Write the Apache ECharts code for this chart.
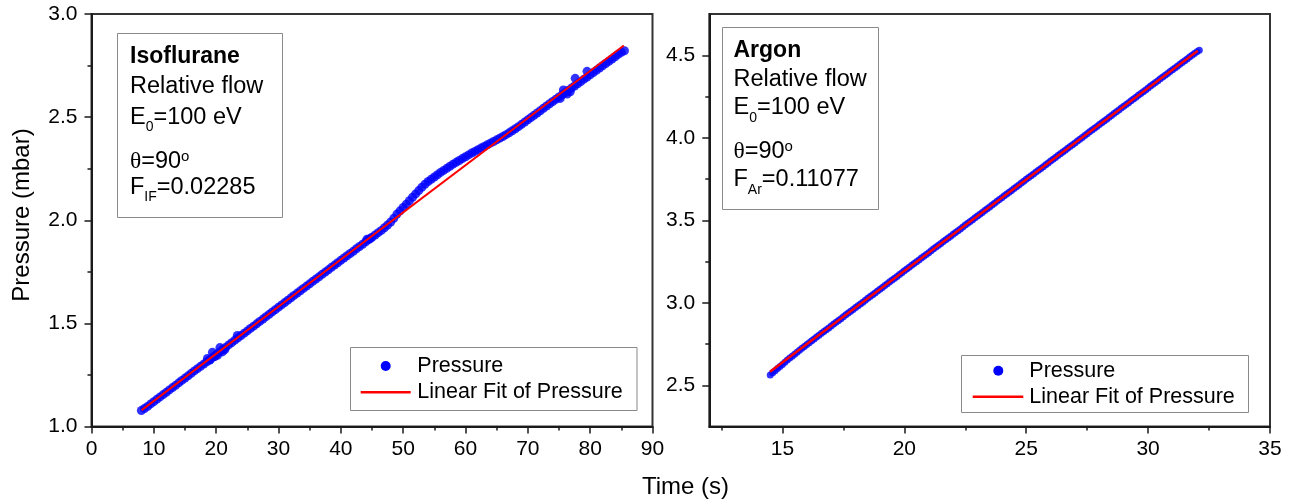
<!DOCTYPE html>
<html><head><meta charset="utf-8">
<script src="https://cdn.jsdelivr.net/npm/echarts@6.0.0/dist/echarts.min.js"></script>
<style>html,body{margin:0;padding:0;background:#fff}#c{width:1303px;height:504px}</style>
</head><body><div id="c"></div>
<script>
// ---------- Isoflurane panel data ----------
const isoTime = [8,8.5,9,9.5,10,10.5,11,11.5,12,12.5,13,13.5,14,14.5,15,15.5,16,16.5,17,17.5,18,18.5,19,19.5,20,20.5,21,21.5,22,22.5,23,23.5,24,24.5,25,25.5,26,26.5,27,27.5,28,28.5,29,29.5,30,30.5,31,31.5,32,32.5,33,33.5,34,34.5,35,35.5,36,36.5,37,37.5,38,38.5,39,39.5,40,40.5,41,41.5,42,42.5,43,43.5,44,44.5,45,45.5,46,46.5,47,47.5,48,48.5,49,49.5,50,50.5,51,51.5,52,52.5,53,53.5,54,54.5,55,55.5,56,56.5,57,57.5,58,58.5,59,59.5,60,60.5,61,61.5,62,62.5,63,63.5,64,64.5,65,65.5,66,66.5,67,67.5,68,68.5,69,69.5,70,70.5,71,71.5,72,72.5,73,73.5,74,74.5,75,75.5,76,76.5,77,77.5,78,78.5,79,79.5,80,80.5,81,81.5,82,82.5,83,83.5,84,84.5,85,85.5,
  18.6,19.0,19.4,19.7,20.2,20.6,21.0,21.4,23.4,44.2,44.7,75.2,75.7,76.3,76.8,77.6,79.5];
const isoPressure = [1.078,1.088,1.098,1.110,1.121,1.133,1.144,1.155,1.166,1.178,1.189,1.200,1.212,1.224,1.235,1.246,1.258,1.270,1.281,1.292,1.303,1.314,1.325,1.337,1.349,1.361,1.372,1.384,1.396,1.407,1.419,1.430,1.441,1.453,1.464,1.476,1.487,1.498,1.510,1.521,1.533,1.544,1.556,1.567,1.579,1.590,1.601,1.613,1.624,1.636,1.647,1.658,1.670,1.681,1.692,1.704,1.715,1.726,1.738,1.749,1.760,1.772,1.783,1.794,1.806,1.817,1.828,1.839,1.850,1.862,1.873,1.884,1.896,1.907,1.918,1.929,1.940,1.951,1.964,1.977,1.992,2.010,2.030,2.046,2.062,2.078,2.095,2.112,2.128,2.144,2.160,2.175,2.188,2.199,2.210,2.221,2.232,2.242,2.252,2.262,2.272,2.281,2.290,2.299,2.308,2.317,2.326,2.334,2.342,2.350,2.358,2.366,2.374,2.382,2.390,2.398,2.406,2.415,2.424,2.434,2.444,2.454,2.465,2.476,2.487,2.498,2.509,2.520,2.531,2.543,2.554,2.565,2.576,2.587,2.598,2.608,2.619,2.630,2.641,2.651,2.662,2.673,2.684,2.694,2.705,2.716,2.727,2.738,2.749,2.760,2.771,2.782,2.793,2.804,2.814,2.822,
  1.330,1.322,1.360,1.338,1.345,1.383,1.362,1.374,1.442,1.908,1.912,2.591,2.632,2.612,2.623,2.688,2.722];
const isoFitTime = [8.05, 85.4];
const isoFitPressure = [1.080, 2.847];

// ---------- Argon panel data ----------
const arTime = [14.5,14.6,14.7,14.8,14.9,15.0,15.1,15.2,15.3,15.4,15.5,15.6,15.7,15.8,15.9,16.0,16.1,16.2,16.3,16.4,16.5,16.6,16.7,16.8,16.9,17.0,17.1,17.2,17.3,17.4,17.5,17.6,17.7,17.8,17.9,18.0,18.1,18.2,18.3,18.4,18.5,18.6,18.7,18.8,18.9,19.0,19.1,19.2,19.3,19.4,19.5,19.6,19.7,19.8,19.9,20.0,20.1,20.2,20.3,20.4,20.5,20.6,20.7,20.8,20.9,21.0,21.1,21.2,21.3,21.4,21.5,21.6,21.7,21.8,21.9,22.0,22.1,22.2,22.3,22.4,22.5,22.6,22.7,22.8,22.9,23.0,23.1,23.2,23.3,23.4,23.5,23.6,23.7,23.8,23.9,24.0,24.1,24.2,24.3,24.4,24.5,24.6,24.7,24.8,24.9,25.0,25.1,25.2,25.3,25.4,25.5,25.6,25.7,25.8,25.9,26.0,26.1,26.2,26.3,26.4,26.5,26.6,26.7,26.8,26.9,27.0,27.1,27.2,27.3,27.4,27.5,27.6,27.7,27.8,27.9,28.0,28.1,28.2,28.3,28.4,28.5,28.6,28.7,28.8,28.9,29.0,29.1,29.2,29.3,29.4,29.5,29.6,29.7,29.8,29.9,30.0,30.1,30.2,30.3,30.4,30.5,30.6,30.7,30.8,30.9,31.0,31.1,31.2,31.3,31.4,31.5,31.6,31.7,31.8,31.9,32.0,32.1];
const arPressure = [2.563,2.576,2.589,2.602,2.614,2.627,2.640,2.653,2.665,2.677,2.689,2.701,2.712,2.724,2.735,2.747,2.758,2.770,2.781,2.793,2.804,2.815,2.826,2.837,2.848,2.860,2.871,2.882,2.893,2.904,2.915,2.927,2.938,2.949,2.960,2.971,2.982,2.993,3.004,3.016,3.027,3.038,3.049,3.060,3.071,3.082,3.093,3.105,3.116,3.127,3.138,3.149,3.160,3.171,3.182,3.194,3.205,3.216,3.227,3.238,3.249,3.260,3.271,3.282,3.293,3.304,3.315,3.327,3.338,3.349,3.360,3.371,3.382,3.393,3.404,3.415,3.426,3.437,3.448,3.460,3.471,3.482,3.493,3.504,3.515,3.526,3.537,3.548,3.559,3.570,3.581,3.593,3.604,3.615,3.626,3.637,3.648,3.659,3.670,3.681,3.692,3.703,3.714,3.726,3.737,3.748,3.759,3.770,3.781,3.792,3.803,3.814,3.825,3.836,3.847,3.859,3.870,3.881,3.892,3.903,3.914,3.925,3.936,3.947,3.958,3.969,3.980,3.991,4.002,4.014,4.025,4.036,4.047,4.058,4.069,4.080,4.091,4.102,4.113,4.124,4.135,4.147,4.158,4.169,4.180,4.191,4.202,4.213,4.224,4.235,4.246,4.257,4.268,4.279,4.290,4.302,4.313,4.324,4.335,4.346,4.357,4.368,4.379,4.390,4.401,4.412,4.423,4.434,4.445,4.456,4.467,4.478,4.489,4.500,4.511,4.521,4.530];
const arFitTime = [14.49, 32.04];
const arFitPressure = [2.583, 4.527];

// ---------- tick labels ----------
const arXTicks = [15, 20, 25, 30, 35];
const arXMinor = [12.5, 17.5, 22.5, 27.5, 32.5];
const arYTicks = [2.5, 3.0, 3.5, 4.0, 4.5];
const arYMinor = [2.75, 3.25, 3.75, 4.25];

const zip = (a, b) => a.map((v, i) => [v, b[i]]);

const FONT = 'Liberation Sans, Arial, sans-serif';
const AX = '#1a1a1a';
const lbl = {fontSize: 21, color: '#000', fontFamily: FONT};

function mainAxis(extra) {
  return Object.assign({
    type: 'value',
    axisLine: {show: true, onZero: false, lineStyle: {color: AX, width: 2}},
    axisTick: {show: true, length: 7, lineStyle: {color: AX, width: 1.5}},
    splitLine: {show: false},
  }, extra);
}

const chart = echarts.init(document.getElementById('c'), null, {renderer: 'canvas'});

const rich = {
  n: {fontSize: 23.5, fontFamily: FONT, color: '#000', lineHeight: 34},
  b: {fontSize: 23, fontFamily: FONT, color: '#000', fontWeight: 'bold', lineHeight: 34},
  th: {fontSize: 23.5, fontFamily: 'Liberation Serif, serif', color: '#000', lineHeight: 26},
  n2: {fontSize: 23.5, fontFamily: FONT, color: '#000', lineHeight: 26},
  sub: {fontSize: 14, fontFamily: FONT, color: '#000', lineHeight: 14, verticalAlign: 'bottom'},
  sup: {fontSize: 15, fontFamily: FONT, color: '#000', lineHeight: 14, verticalAlign: 'top'}
};
function txt(x, y, text) {
  return {type: 'text', x: x, y: y, z: 100, style: {text: text, rich: rich, align: 'left', verticalAlign: 'middle'}};
}
function plain(x, y, text, size) {
  return {type: 'text', x: x, y: y, z: 100, style: {text: text, fontSize: size, fontFamily: FONT, fill: '#000', align: 'left', verticalAlign: 'middle'}};
}

const graphics = [
  {type: 'rect', z: 90, shape: {x: 117.5, y: 33.5, width: 165, height: 184}, style: {fill: '#fff', stroke: '#8a8a8a', lineWidth: 1}},
  txt(130, 57, '{b|Isoflurane}'),
  txt(130, 86.5, '{n|Relative flow}'),
  txt(130, 117.5, '{n|E}{sub|0}{n|=100 eV}'),
  txt(130, 162, '{th|\u03b8}{n2|=90}{sup|o}'),
  txt(130, 187.5, '{n|F}{sub|IF}{n|=0.02285}'),

  {type: 'rect', z: 90, shape: {x: 722.5, y: 27.5, width: 156, height: 182}, style: {fill: '#fff', stroke: '#8a8a8a', lineWidth: 1}},
  txt(733.5, 51, '{b|Argon}'),
  txt(733.5, 79.5, '{n|Relative flow}'),
  txt(733.5, 108, '{n|E}{sub|0}{n|=100 eV}'),
  txt(733.5, 152, '{th|\u03b8}{n2|=90}{sup|o}'),
  txt(733.5, 180, '{n|F}{sub|Ar}{n|=0.11077}'),

  {type: 'rect', z: 90, shape: {x: 350.5, y: 347.5, width: 286.5, height: 63}, style: {fill: '#fff', stroke: '#8a8a8a', lineWidth: 1}},
  {type: 'circle', z: 100, shape: {cx: 385.7, cy: 366, r: 5}, style: {fill: '#0000ff'}},
  plain(417.3, 366.5, 'Pressure', 21.5),
  {type: 'line', z: 100, shape: {x1: 360.7, y1: 392.3, x2: 410.7, y2: 392.3}, style: {stroke: '#ff0000', lineWidth: 2.5}},
  plain(417.3, 392.5, 'Linear Fit of Pressure', 21.5),

  {type: 'rect', z: 90, shape: {x: 961.5, y: 355.5, width: 287, height: 57}, style: {fill: '#fff', stroke: '#8a8a8a', lineWidth: 1}},
  {type: 'circle', z: 100, shape: {cx: 998.3, cy: 370.7, r: 5}, style: {fill: '#0000ff'}},
  plain(1029.3, 371, 'Pressure', 21.5),
  {type: 'line', z: 100, shape: {x1: 972.7, y1: 396.7, x2: 1023.3, y2: 396.7}, style: {stroke: '#ff0000', lineWidth: 2.5}},
  plain(1029.3, 397, 'Linear Fit of Pressure', 21.5),

  {type: 'text', x: 685.5, y: 487, z: 100, style: {text: 'Time (s)', fontSize: 24, fontFamily: FONT, fill: '#000', align: 'center', verticalAlign: 'middle'}},
  {type: 'text', x: 22, y: 215, rotation: Math.PI / 2, z: 100, style: {text: 'Pressure (mbar)', fontSize: 24, fontFamily: FONT, fill: '#000', align: 'center', verticalAlign: 'middle'}}
];

const option = {
  animation: false,
  backgroundColor: '#fff',
  grid: [
    {left: 91.5, top: 14, width: 561, height: 412.6, show: true, borderColor: '#333', borderWidth: 2},
    {left: 709.3, top: 14, width: 560.7, height: 412.6, show: true, borderColor: '#333', borderWidth: 2}
  ],
  xAxis: [
    mainAxis({gridIndex: 0, position: 'bottom', min: 0, max: 90, interval: 10,
      minorTick: {show: true, splitNumber: 2, length: 4, lineStyle: {color: AX, width: 1.5}},
      axisLabel: Object.assign({margin: 12, formatter: v => String(v)}, lbl)}),
    mainAxis({gridIndex: 1, position: 'bottom', min: 12, max: 35,
      axisTick: {show: true, length: 7, customValues: arXTicks, lineStyle: {color: AX, width: 1.5}},
      axisLabel: Object.assign({margin: 12, customValues: arXTicks, formatter: v => String(v)}, lbl)}),
    {type: 'value', gridIndex: 1, position: 'bottom', min: 12, max: 35,
      axisLine: {show: false, onZero: false}, splitLine: {show: false}, axisLabel: {show: false},
      axisTick: {show: true, length: 4, customValues: arXMinor, lineStyle: {color: AX, width: 1.5}}}
  ],
  yAxis: [
    mainAxis({gridIndex: 0, position: 'left', min: 1, max: 3, interval: 0.5,
      minorTick: {show: true, splitNumber: 2, length: 4, lineStyle: {color: AX, width: 1.5}},
      axisLabel: Object.assign({margin: 14, formatter: v => v.toFixed(1)}, lbl)}),
    mainAxis({gridIndex: 1, position: 'left', min: 2.25, max: 4.75,
      axisTick: {show: true, length: 7, customValues: arYTicks, lineStyle: {color: AX, width: 1.5}},
      axisLabel: Object.assign({margin: 14, customValues: arYTicks, formatter: v => v.toFixed(1)}, lbl)}),
    {type: 'value', gridIndex: 1, position: 'left', min: 2.25, max: 4.75,
      axisLine: {show: false, onZero: false}, splitLine: {show: false}, axisLabel: {show: false},
      axisTick: {show: true, length: 4, customValues: arYMinor, lineStyle: {color: AX, width: 1.5}}}
  ],
  series: [
    {name: 'Pressure', type: 'scatter', xAxisIndex: 0, yAxisIndex: 0, symbol: 'circle', symbolSize: 9,
      itemStyle: {color: '#0000ff'}, data: zip(isoTime, isoPressure), z: 2},
    {name: 'Linear Fit of Pressure', type: 'line', xAxisIndex: 0, yAxisIndex: 0, showSymbol: false,
      lineStyle: {color: '#ff0000', width: 2}, data: zip(isoFitTime, isoFitPressure), z: 3},
    {name: 'Pressure', type: 'scatter', xAxisIndex: 1, yAxisIndex: 1, symbol: 'circle', symbolSize: 7,
      itemStyle: {color: '#0000ff'}, data: zip(arTime, arPressure), z: 2},
    {name: 'Linear Fit of Pressure', type: 'line', xAxisIndex: 1, yAxisIndex: 1, showSymbol: false,
      lineStyle: {color: '#ff0000', width: 2.5}, data: zip(arFitTime, arFitPressure), z: 3}
  ],
  graphic: graphics
};
chart.setOption(option);
</script>
</body></html>
